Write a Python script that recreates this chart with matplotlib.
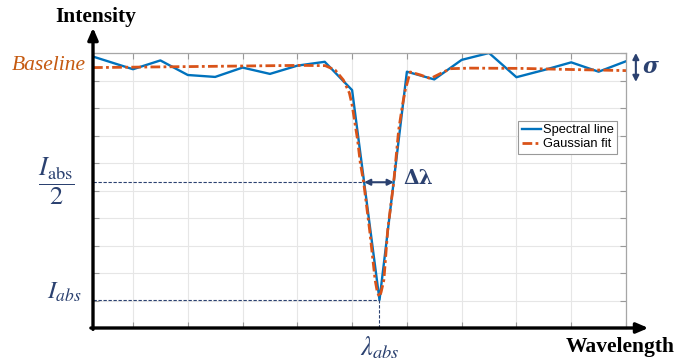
import matplotlib.pyplot as plt
import numpy as np

# measured spectrum (wavelength in grid units, intensity in grid units)
wl_line = [-0.73, 0.0, 0.5, 1.0, 1.5, 2.0, 2.5, 3.0, 3.5, 4.0, 4.5, 5.0, 5.5,
           6.0, 6.5, 7.0, 7.5, 8.0, 8.5, 9.0]
int_line = [9.87, 9.41, 9.73, 9.20, 9.13, 9.47, 9.24, 9.54, 9.68, 8.65, 1.02,
            9.32, 9.04, 9.75, 10.0, 9.12, 9.38, 9.66, 9.32, 9.70]

# fitted profile
wl_fit = [-0.73, 1.22, 3.05, 3.51, 3.69, 3.84, 3.95, 4.00, 4.10, 4.15, 4.21,
          4.32, 4.42, 4.46, 4.50, 4.53, 4.58, 4.65, 4.76, 4.85, 4.92, 4.97,
          5.06, 5.25, 5.43, 5.67, 5.80, 6.16, 7.08, 7.99, 9.0]
int_fit = [9.47, 9.51, 9.55, 9.54, 9.38, 9.02, 8.55, 8.11, 6.84, 6.00, 5.31,
           3.56, 1.75, 1.31, 1.13, 1.31, 1.75, 3.56, 5.31, 7.20, 8.11, 8.65,
           9.31, 9.20, 9.07, 9.31, 9.43, 9.45, 9.44, 9.40, 9.36]

baseline = 9.49
i_abs = 1.02
i_half = 5.30
lam_abs = 4.5
fwhm_left, fwhm_right = 4.22, 4.76
noise_lo, noise_hi = 8.95, 10.0

navy = '#2B4170'
blue = '#0072BD'
orange = '#D95319'

plt.rcParams['mathtext.fontset'] = 'stix'

fig = plt.figure(figsize=(6.78, 3.64), dpi=100)
ax = fig.add_axes([93/678, 36/364, 533/678, 275/364])

ax.plot(wl_line, int_line, color=blue, lw=1.7, label='Spectral line')
ax.plot(wl_fit, int_fit, color=orange, lw=2.0,
        linestyle=(0, (3.5, 1.2, 1.0, 1.2)), label='Gaussian fit')

ax.set_xlim(-0.73, 9.0)
ax.set_ylim(0, 10)
ax.set_xticks(range(0, 10))
ax.set_yticks(range(0, 11))
ax.tick_params(direction='in', length=4, color='#999999', top=True, right=True,
               labelbottom=False, labelleft=False)
ax.grid(True, color='#e6e6e6', lw=0.8)
ax.set_axisbelow(True)
for side in ['top', 'right']:
    ax.spines[side].set_color('#a6a6a6')
    ax.spines[side].set_linewidth(0.9)
for side in ['left', 'bottom']:
    ax.spines[side].set_visible(False)

# black axes with arrow heads
ax.annotate('', xy=(0, 1.092), xytext=(0, -0.005), xycoords='axes fraction',
            arrowprops=dict(arrowstyle='-|>,head_length=0.7,head_width=0.3',
                            color='black', lw=2.4, shrinkA=0, shrinkB=0))
ax.annotate('', xy=(1.042, 0), xytext=(-0.004, 0), xycoords='axes fraction',
            arrowprops=dict(arrowstyle='-|>,head_length=0.7,head_width=0.3',
                            color='black', lw=2.4, shrinkA=0, shrinkB=0))

# guide lines
ax.plot([-0.73, fwhm_left], [i_half, i_half], color=navy, lw=0.8, ls=(0, (3, 1.5)))
ax.plot([-0.73, lam_abs], [i_abs, i_abs], color=navy, lw=0.8, ls=(0, (3, 1.5)))
ax.plot([lam_abs, lam_abs], [0, i_abs], color=navy, lw=0.8, ls=(0, (3, 1.5)))

ax.annotate('', xy=(fwhm_right, i_half), xytext=(fwhm_left, i_half),
            arrowprops=dict(arrowstyle='<|-|>,head_length=0.35,head_width=0.18',
                            color=navy, lw=1.5, shrinkA=0, shrinkB=0))
ax.annotate('', xy=(9.18, noise_hi), xytext=(9.18, noise_lo),
            annotation_clip=False,
            arrowprops=dict(arrowstyle='<|-|>,head_length=0.35,head_width=0.18',
                            color=navy, lw=1.5, shrinkA=0, shrinkB=0))

leg = ax.legend(loc='upper right', bbox_to_anchor=(0.983, 0.752),
                prop={'family': 'Liberation Sans', 'size': 9.3},
                fancybox=False, edgecolor='#999999', framealpha=1,
                handlelength=1.5, handletextpad=0.15, borderpad=0.25,
                labelspacing=0.15, borderaxespad=0)
leg.get_frame().set_linewidth(0.8)

# labels
fig.text(96/678, 1 - 17/364, 'Intensity', family='Liberation Serif',
         weight='bold', size=15.5, ha='center', va='center')
fig.text(620/678, 1 - 347/364, 'Wavelength', family='Liberation Serif',
         weight='bold', size=15.5, ha='center', va='center')
fig.text(86/678, 1 - 66/364, 'Baseline', family='Liberation Serif',
         style='italic', size=15.5, color='#C55A11', ha='right', va='center')
fig.text(56/678, 1 - 181.5/364, r'$\dfrac{I_{\mathrm{abs}}}{2}$', size=19,
         color=navy, ha='center', va='center')
fig.text(81/678, 1 - 292/364, r'$I_{abs}$', size=18, color=navy,
         ha='right', va='center')
fig.text(380/678, 1 - 348/364, r'$\lambda_{abs}$', size=19, color=navy,
         ha='center', va='center')
fig.text(403/678, 1 - 178/364, 'Δλ', family='DejaVu Serif', weight='bold',
         size=14.5, color=navy, ha='left', va='center')
fig.text(651/678, 1 - 67/364, 'σ', family='DejaVu Serif', weight='bold',
         style='italic', size=15.5, color=navy, ha='center', va='center')

fig.savefig('out.png', dpi=100)
